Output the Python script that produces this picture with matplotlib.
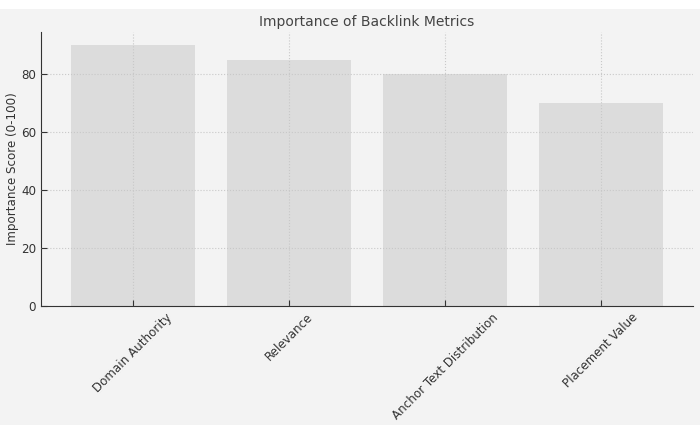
import matplotlib
matplotlib.use("Agg")
import matplotlib.pyplot as plt
from matplotlib.patches import Rectangle

metrics = ["Domain Authority", "Relevance", "Anchor Text Distribution", "Placement Value"]
scores = [90, 85, 80, 70]

BG = "#f3f3f3"
BAR = "#dcdcdc"
TXT = "#333333"

W, H = 700, 434
fig = plt.figure(figsize=(W / 100, H / 100), dpi=100, facecolor="white")
# grey canvas band (the reference has thin white strips top and bottom)
fig.patches.append(Rectangle((0, 9 / H), 1, 416 / H, transform=fig.transFigure,
                             facecolor=BG, edgecolor="none", zorder=-10))

ax = fig.add_axes([41 / W, 128 / H, 652 / W, 274 / H])
ax.set_facecolor(BG)
x = range(len(metrics))
ax.bar(x, scores, width=0.8, color=BAR, zorder=2)
ax.set_xticks(list(x))
ax.set_xticklabels(metrics, rotation=45, ha="center", color=TXT, fontsize=8.6)
ax.set_ylabel("Importance Score (0-100)", color=TXT, fontsize=8.6)
ax.yaxis.set_label_coords(-0.034, 0.5)
ax.set_title("Importance of Backlink Metrics", color="#444444", fontsize=10, pad=4)
ax.grid(True, ls=":", color="#c8c8c8", lw=0.8, zorder=3)
ax.set_axisbelow(False)
for s in ("top", "right"):
    ax.spines[s].set_visible(False)
for s in ("left", "bottom"):
    ax.spines[s].set_color("#333333")
ax.tick_params(direction="in", length=4, colors="#333333", labelcolor=TXT, labelsize=8.6)
ax.set_yticks([0, 20, 40, 60, 80])

fig.savefig("out.png", dpi=100, facecolor=fig.get_facecolor())
